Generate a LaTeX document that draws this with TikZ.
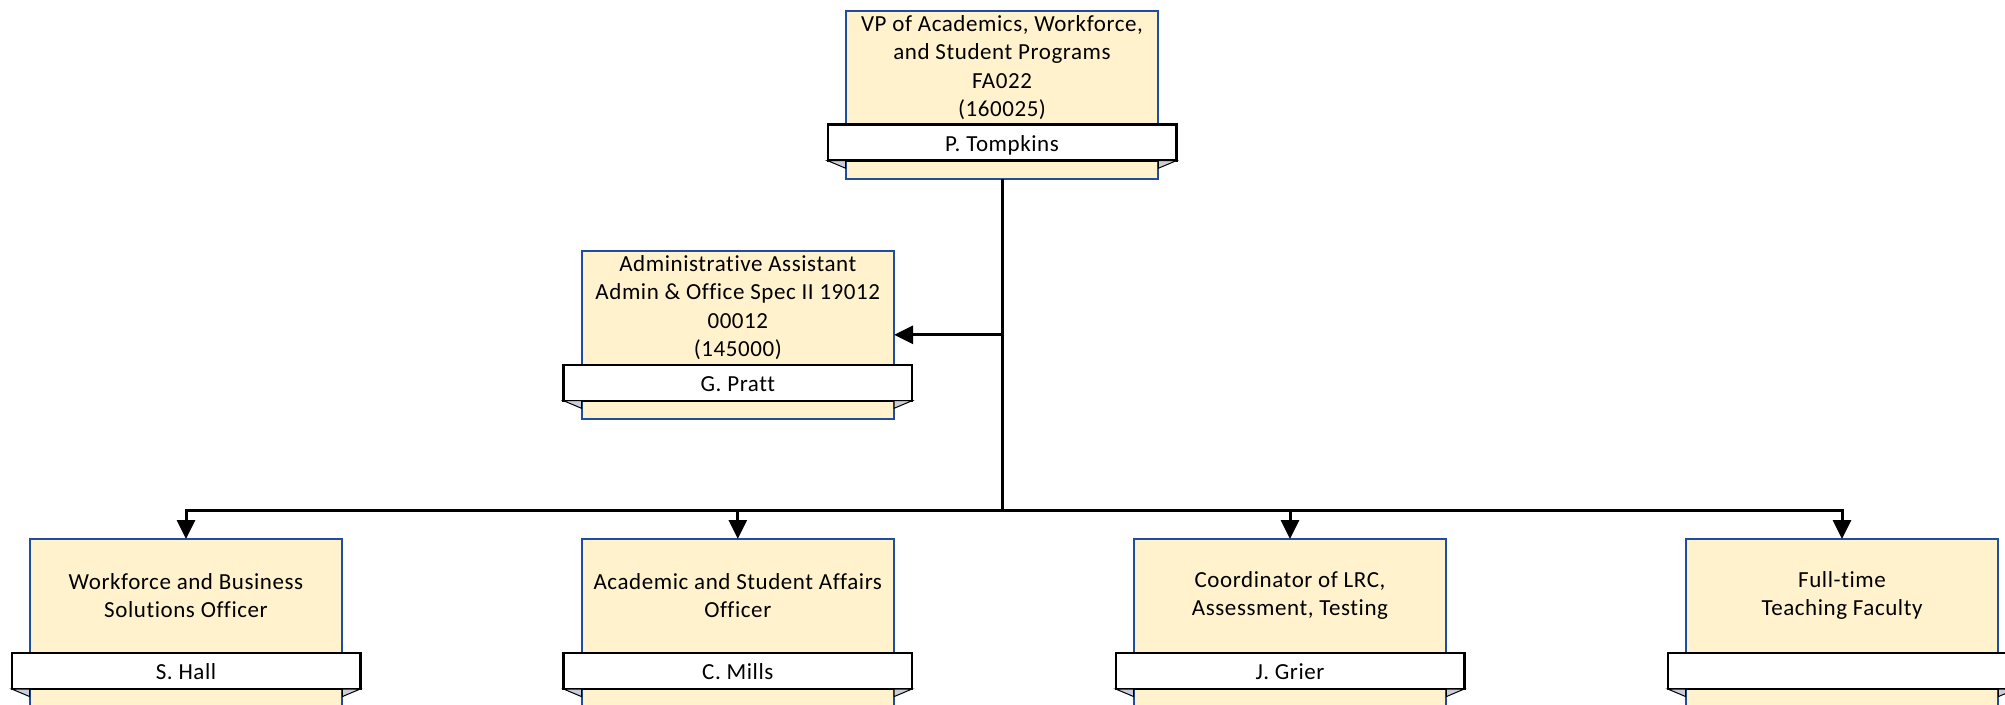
\documentclass[tikz,border=0pt]{standalone}
\usepackage{fontspec}
\setmainfont{Carlito}[LetterSpace=2.5, Ligatures=NoCommon]
\usetikzlibrary{arrows.meta}
\definecolor{boxfill}{HTML}{FFF2CC}
\definecolor{boxline}{RGB}{31,78,160}
\definecolor{flapfill}{HTML}{C9CED8}
\tikzset{
  boxsty/.style={draw=boxline, line width=1pt, fill=boxfill, minimum width=156.3pt, minimum height=84.15pt, inner sep=0pt, outer sep=0pt},
  titlesty/.style={align=center, font=\fontsize{11.5pt}{14.15pt}\selectfont, inner sep=0pt},
  bannersty/.style={draw=black, line width=1.2pt, fill=white, minimum width=174.3pt, minimum height=18pt, inner sep=0pt, outer sep=0pt, text height=10.7pt, text depth=2pt, font=\fontsize{11.5pt}{14.15pt}\selectfont},
  flapsty/.style={draw=black, line width=0.5pt, fill=flapfill},
  conn/.style={line width=1.5pt, draw=black},
  arr/.style={conn, -{Triangle[length=9.5pt,width=9pt]}}
}
\newcommand{\orgunit}[5]{%
  \node[boxsty] (#1) at (#2,#3+84.15) {};
  \node[titlesty] (#1-t) at (#2,#3+56.8) {#4};
  \node[bannersty] (#1-n) at (#2,#3+132) {#5};
  \filldraw[flapsty] (#1-n.south west) -- (#1-n.south west -| #1.west) -- ([yshift=-3.8pt]#1-n.south west -| #1.west) -- cycle;
  \filldraw[flapsty] (#1-n.south east) -- (#1-n.south east -| #1.east) -- ([yshift=-3.8pt]#1-n.south east -| #1.east) -- cycle;
}
\begin{document}
\begin{tikzpicture}[x=0.5pt, y=-0.5pt]
\useasboundingbox (0,0) rectangle (2005,705);
\clip (0,0) rectangle (2005,705);
\orgunit{vp}{1002}{10.7}{VP of Academics, Workforce,\\and Student Programs\\FA022\\(160025)}{P. Tompkins}
\orgunit{aa}{737.8}{250.7}{Administrative Assistant\\Admin \& Office Spec II 19012\\00012\\(145000)}{G. Pratt}
\orgunit{wb}{186}{539}{Workforce and Business\\Solutions Officer}{S. Hall}
\orgunit{as}{737.8}{539}{Academic and Student Affairs\\Officer}{C. Mills}
\orgunit{co}{1290}{539}{Coordinator of LRC,\\Assessment, Testing}{J. Grier}
\orgunit{ft}{1842}{539}{Full-time\\Teaching Faculty}{}
\coordinate (j) at (1002,510);
\draw[conn] (vp.south) -- (j);
\draw[arr] (vp.south |- aa.east) -- (aa.east);
\draw[arr] (j) -| (wb.north);
\draw[arr] (j) -| (as.north);
\draw[arr] (j) -| (co.north);
\draw[arr] (j) -| (ft.north);
\end{tikzpicture}
\end{document}
